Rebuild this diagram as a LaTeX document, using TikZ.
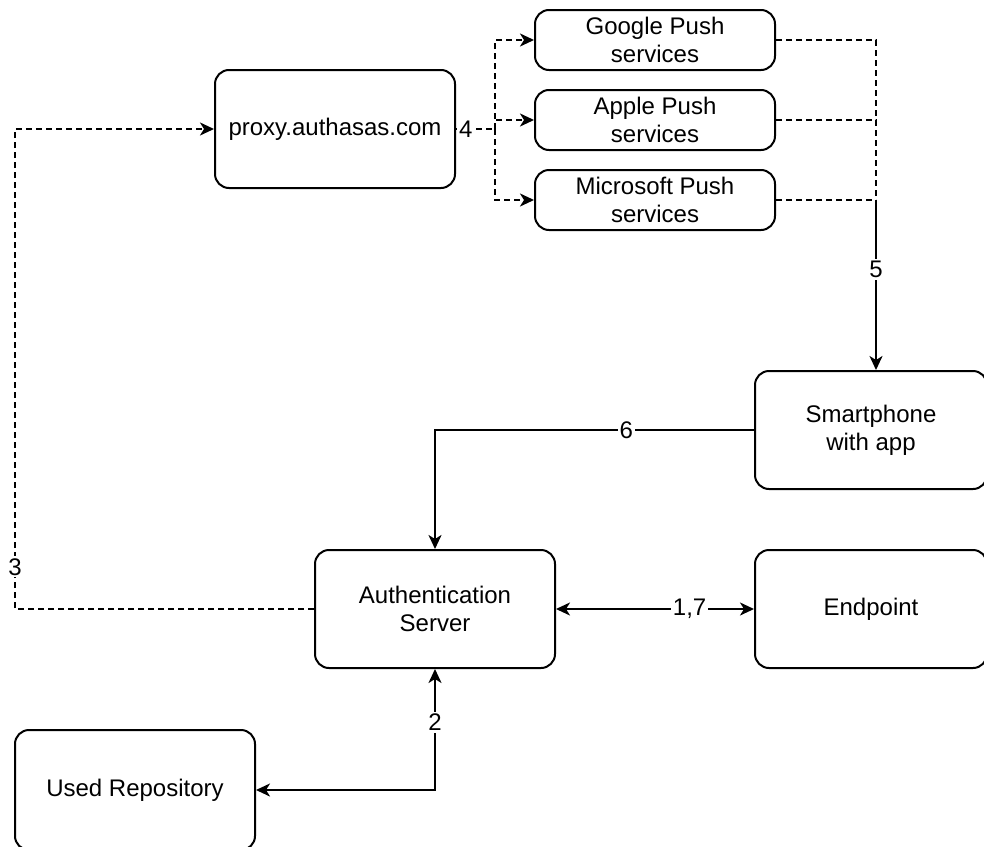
\documentclass[tikz,border=0pt]{standalone}
\usepackage{fontspec}
\setmainfont{Liberation Sans}
\usetikzlibrary{arrows.meta,calc}

\begin{document}
\begin{tikzpicture}[x=0.5pt,y=-0.5pt,
    box/.style={draw,rounded corners=7pt,line width=1pt,align=center,minimum width=120pt,minimum height=59pt,inner sep=0pt,font=\fontsize{12}{14}\selectfont},
    pushbox/.style={box,minimum height=30pt},
    line/.style={line width=1pt},
    dline/.style={line width=1pt,dash pattern=on 3pt off 2pt},
    lbl/.style={fill=white,inner sep=1pt,font=\fontsize{12}{14}\selectfont},
    >={Stealth[length=7pt,width=6.5pt,inset=2pt]}]
    \useasboundingbox (0,0) rectangle (984,846);
    \node[box] (proxy) at (335,129) {proxy.authasas.com};
    \node[pushbox] (google) at (655,40) {Google Push\\services};
    \node[pushbox] (apple) at (655,120) {Apple Push\\services};
    \node[pushbox] (ms) at (655,200) {Microsoft Push\\services};
    \node[box,minimum width=116pt] (phone) at (871,430) {Smartphone\\with app};
    \node[box] (auth) at (435,609) {Authentication\\Server};
    \node[box,minimum width=116pt] (endpoint) at (871,609) {Endpoint};
    \node[box,minimum height=60pt] (repo) at (135,790) {Used Repository};
    \coordinate (split) at (495,129);
    \coordinate (join) at (876,200);
    \coordinate (back) at (15,609);
    % 4: proxy to the push services
    \draw[dline] (proxy.east) -- node[lbl,pos=0.25] {4} (split);
    \draw[dline,->] (split) |- (google.west);
    \draw[dline,->] (split) |- (apple.west);
    \draw[dline,->] (split) |- (ms.west);
    % 5: push services to the phone
    \draw[dline] (google.east) -| (join);
    \draw[dline] (apple.east) -| (join);
    \draw[dline] (ms.east) -- (join);
    \draw[line,->] (join) -- node[lbl,pos=0.41] {5} (join |- phone.north);
    \draw[line,->] (phone.west) -| node[lbl,pos=0.2] {6} (auth.north);
    \draw[line,<->] (auth.east) -- node[lbl,pos=0.675] {1,7} (endpoint.west);
    \draw[line,<->] (auth.south) |- node[lbl,pos=0.22] {2} (repo.east);
    \draw[dline,->] (auth.west) -- (back) |- node[lbl,pos=0.044] {3} (proxy.west);
\end{tikzpicture}
\end{document}
